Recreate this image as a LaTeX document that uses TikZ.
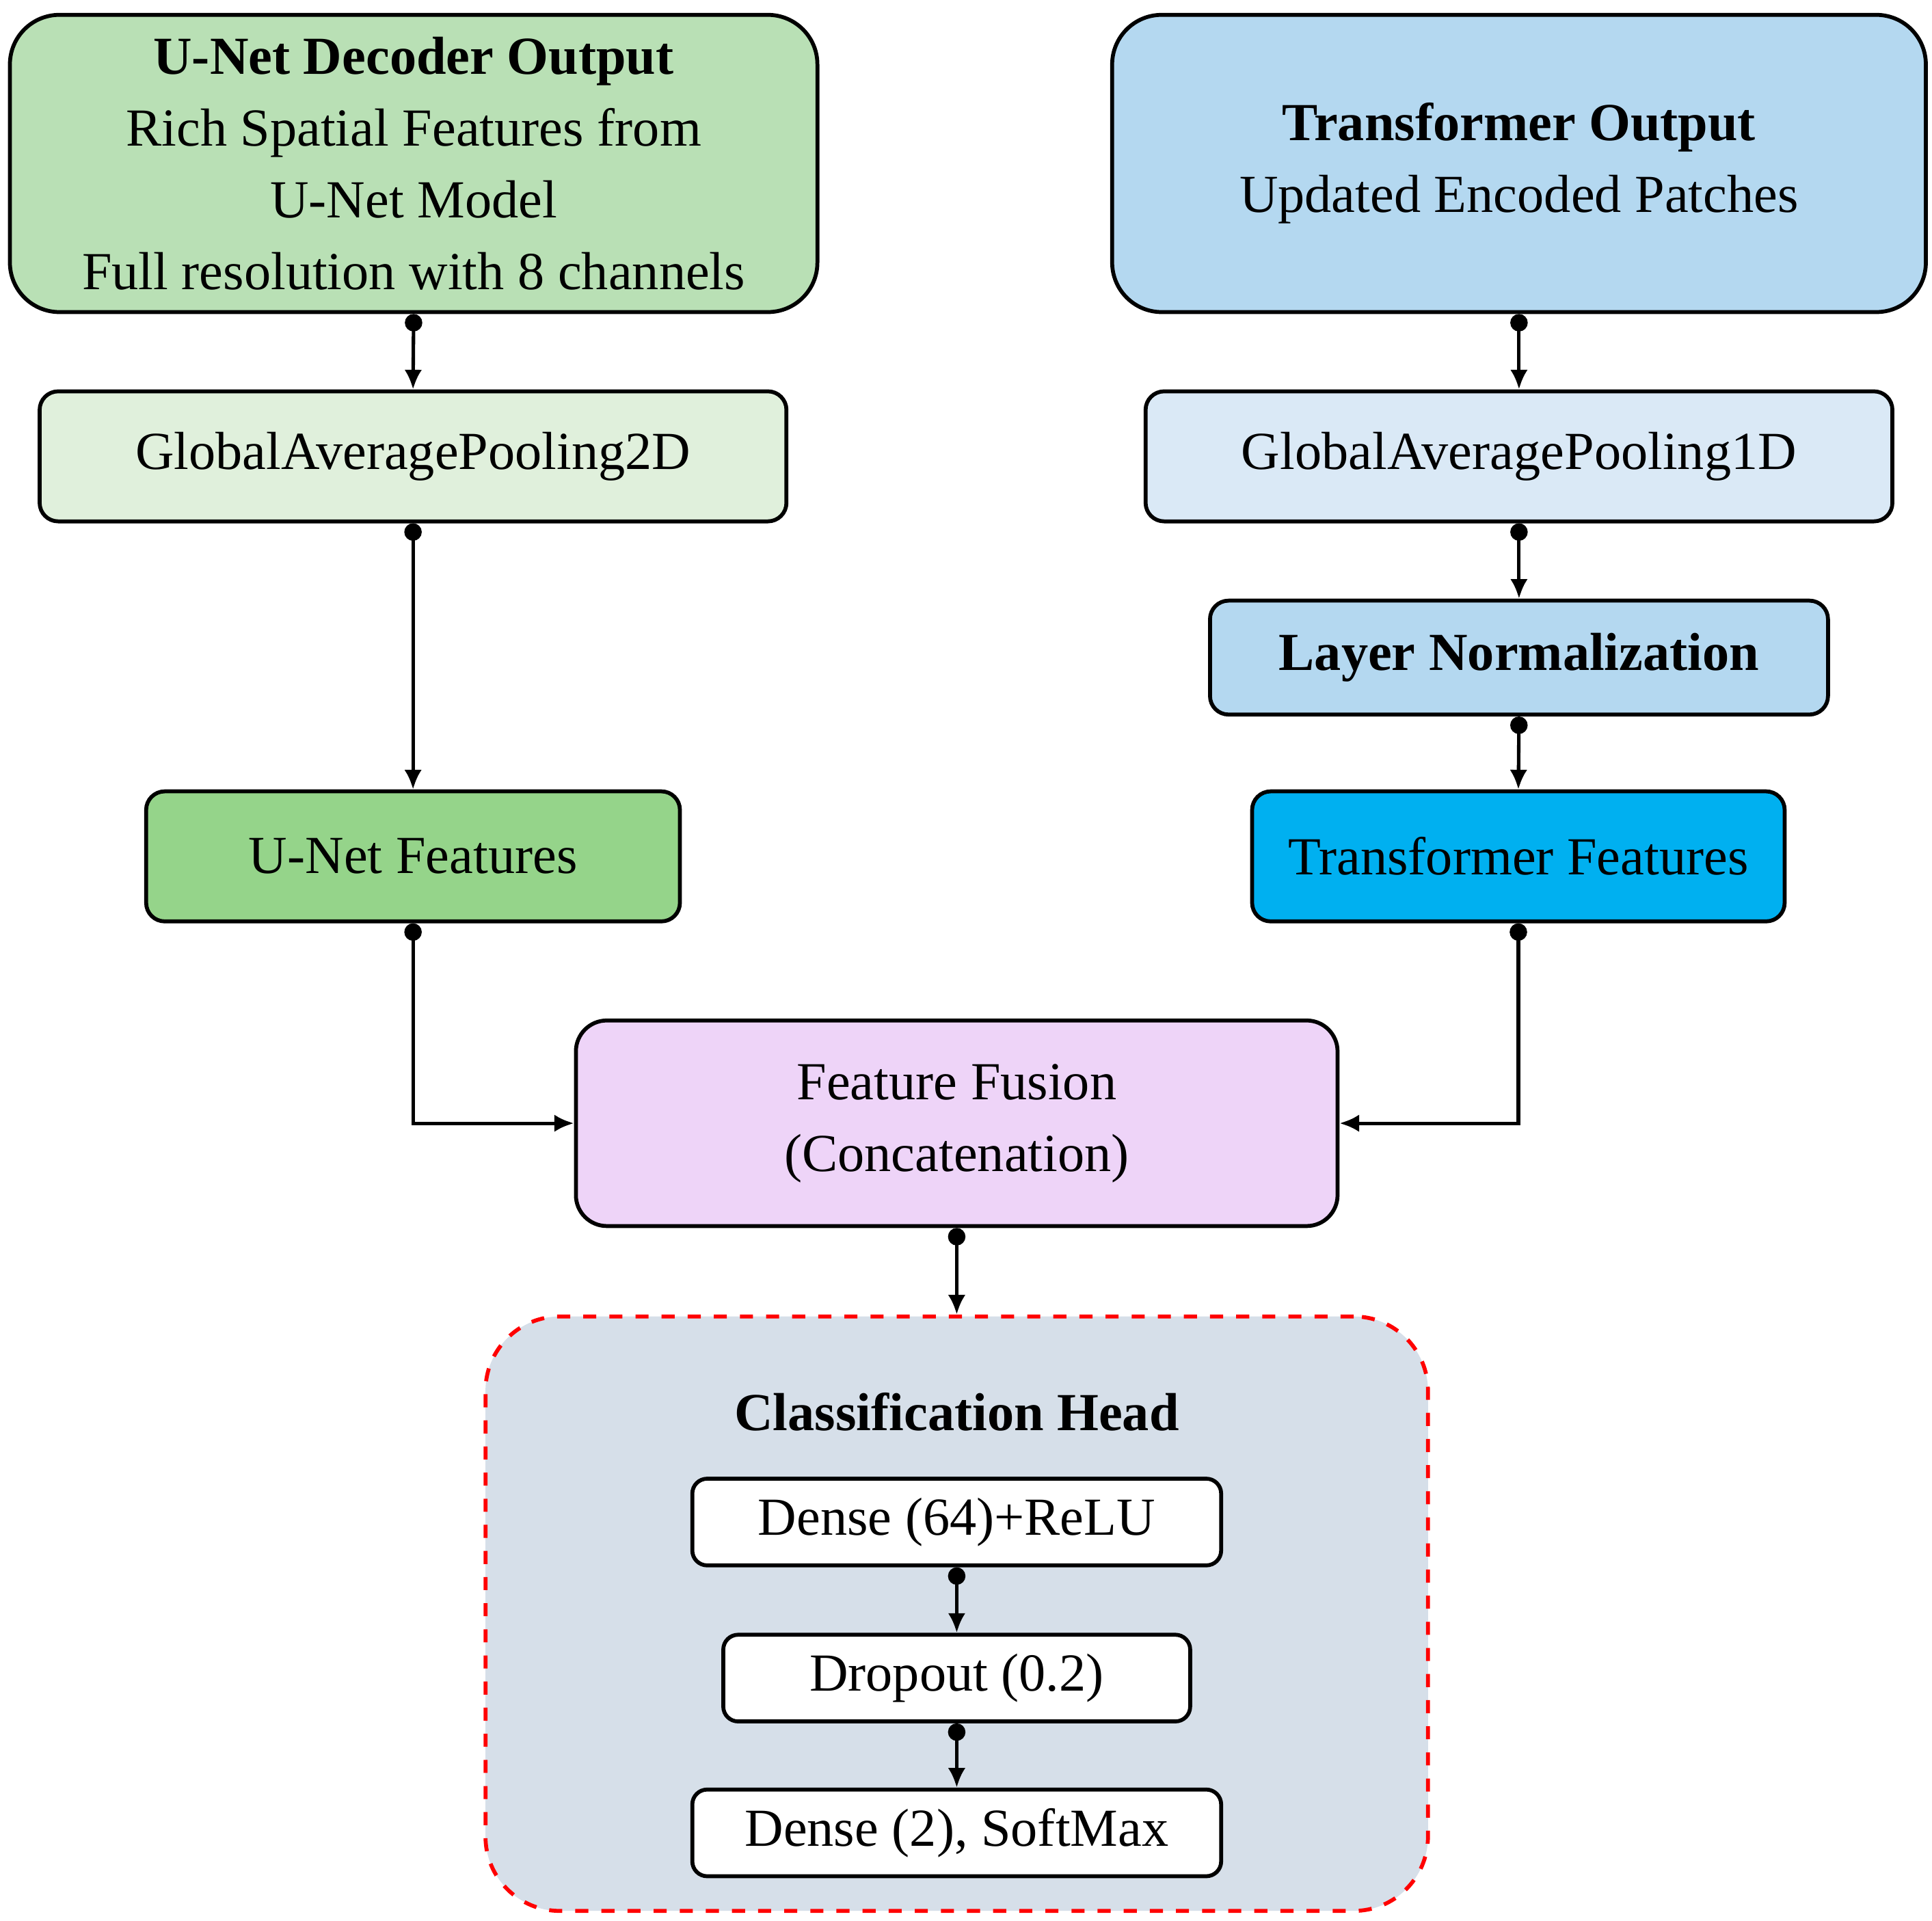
\documentclass[tikz,border=0pt]{standalone}
\usepackage{fontspec}
\setmainfont{Liberation Serif}
\usetikzlibrary{arrows.meta}
\begin{document}
\begin{tikzpicture}[x=1cm,y=-1cm,
 box/.style={draw=black,line width=0.9pt,rounded corners=#1,align=center,inner sep=0pt,font=\fontsize{12.3pt}{16.5pt}\selectfont},
 conn/.style={line width=0.8pt,{Circle[length=4pt]}-{Latex[length=4.5pt,width=4pt]}}]
\useasboundingbox (0,0) rectangle (15.6,15.51);
\definecolor{gA}{HTML}{B9E0B5}\definecolor{gB}{HTML}{E0F0DC}\definecolor{gC}{HTML}{95D48A}
\definecolor{bA}{HTML}{B4D8F0}\definecolor{bB}{HTML}{DAE9F6}\definecolor{bC}{HTML}{00B0F0}
\definecolor{pF}{HTML}{EED4F8}\definecolor{hd}{HTML}{D6DFE9}
\node[box=0.4cm,fill=gA,minimum width=6.52cm,minimum height=2.4cm] (ud) at (3.34,1.32) {\textbf{U-Net Decoder Output}\\Rich Spatial Features from\\U-Net Model\\Full resolution with 8 channels};
\node[box=0.4cm,fill=bA,minimum width=6.57cm,minimum height=2.4cm] (to) at (12.265,1.32) {\textbf{Transformer Output}\\Updated Encoded Patches};
\node[box=0.15cm,fill=gB,minimum width=6.03cm,minimum height=1.05cm] (g2) at (3.335,3.685) {GlobalAveragePooling2D};
\node[box=0.15cm,fill=bB,minimum width=6.03cm,minimum height=1.05cm] (g1) at (12.265,3.685) {GlobalAveragePooling1D};
\node[box=0.15cm,fill=bA,minimum width=4.99cm,minimum height=0.92cm] (ln) at (12.265,5.31) {\textbf{Layer Normalization}};
\node[box=0.15cm,fill=gC,minimum width=4.31cm,minimum height=1.05cm] (uf) at (3.335,6.915) {U-Net Features};
\node[box=0.15cm,fill=bC,minimum width=4.30cm,minimum height=1.05cm] (tf) at (12.26,6.915) {Transformer Features};
\node[box=0.25cm,fill=pF,minimum width=6.15cm,minimum height=1.66cm] (ff) at (7.725,9.07) {Feature Fusion\\(Concatenation)};
\node[draw=red,dashed,line width=0.9pt,rounded corners=0.6cm,fill=hd,minimum width=7.61cm,minimum height=4.8cm,inner sep=0pt] (ch) at (7.725,13.03) {};
\node[font=\fontsize{12.3pt}{15pt}\selectfont\bfseries] (cht) at (7.725,11.4) {Classification Head};
\node[box=0.12cm,fill=white,minimum width=4.27cm,minimum height=0.7cm] (d1) at (7.725,12.29) {Dense (64)+ReLU};
\node[box=0.12cm,fill=white,minimum width=3.77cm,minimum height=0.7cm] (dp) at (7.725,13.55) {Dropout (0.2)};
\node[box=0.12cm,fill=white,minimum width=4.27cm,minimum height=0.7cm] (d2) at (7.725,14.80) {Dense (2), SoftMax};
\draw[conn] (ud.south) -- (g2.north);
\draw[conn] (to.south) -- (g1.north);
\draw[conn] (g2.south) -- (uf.north);
\draw[conn] (g1.south) -- (ln.north);
\draw[conn] (ln.south) -- (tf.north);
\draw[conn] (uf.south) |- (ff.west);
\draw[conn] (tf.south) |- (ff.east);
\draw[conn] (ff.south) -- (ch.north);
\draw[conn] (d1.south) -- (dp.north);
\draw[conn] (dp.south) -- (d2.north);
\end{tikzpicture}
\end{document}
